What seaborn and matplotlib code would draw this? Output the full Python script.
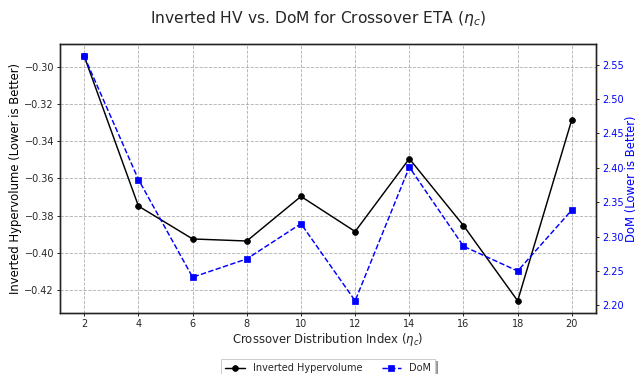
import matplotlib
matplotlib.use("Agg")
import matplotlib.pyplot as plt
import seaborn as sns
import pandas as pd

eta_c = [2, 4, 6, 8, 10, 12, 14, 16, 18, 20]
inverted_hv = [-0.2943, -0.3749, -0.3926, -0.3937, -0.3697,
               -0.3886, -0.3494, -0.3854, -0.4259, -0.3283]
dom = [2.562, 2.383, 2.241, 2.2676, 2.3188,
       2.2067, 2.401, 2.286, 2.250, 2.3387]

df = pd.DataFrame({"eta_c": eta_c, "hv": inverted_hv, "dom": dom})

sns.set_style("ticks")
plt.rcParams["font.family"] = ["DejaVu Sans"]

DPI = 70
fig = plt.figure(figsize=(637 / DPI, 374 / DPI), dpi=DPI)
ax1 = fig.add_axes([0.094, 0.163, 0.842, 0.719])
ax2 = ax1.twinx()

sns.lineplot(data=df, x="eta_c", y="hv", ax=ax1, color="black", marker="o",
             markersize=6, markeredgecolor="black", linewidth=1.5,
             label="Inverted Hypervolume", legend=False)
sns.lineplot(data=df, x="eta_c", y="dom", ax=ax2, color="blue", marker="s",
             markersize=6, markeredgecolor="blue", linewidth=1.5,
             linestyle="--", label="DoM", legend=False)

ax1.set_xticks(eta_c)
ax1.set_xlabel(r"Crossover Distribution Index ($\eta_c$)", fontsize=12, labelpad=2)
ax1.set_ylabel("Inverted Hypervolume (Lower is Better)", fontsize=12,
               color="black", labelpad=2)
ax2.set_ylabel("DoM (Lower is Better)", fontsize=12, color="blue", labelpad=1)
ax1.tick_params(axis="both", labelsize=10, length=3.5, width=1.0,
                color="#222222", pad=2.5)
ax2.tick_params(axis="y", labelsize=10, labelcolor="blue", length=3.5, width=1.0,
                color="#222222", pad=2.5)
ax1.grid(True, linestyle="--", color="gray", alpha=0.6, linewidth=0.9)

for ax in (ax1, ax2):
    for s in ax.spines.values():
        s.set_color("#222222")
        s.set_linewidth(1.4)

fig.suptitle(r"Inverted HV vs. DoM for Crossover ETA ($\eta_c$)", fontsize=16, y=0.975)

h1, l1 = ax1.get_legend_handles_labels()
h2, l2 = ax2.get_legend_handles_labels()
fig.legend(h1 + h2, l1 + l2, loc="upper center", bbox_to_anchor=(0.515, 0.053),
           ncol=2, fontsize=10, shadow=True, fancybox=False, frameon=True)

fig.savefig("out.png", dpi=DPI)
